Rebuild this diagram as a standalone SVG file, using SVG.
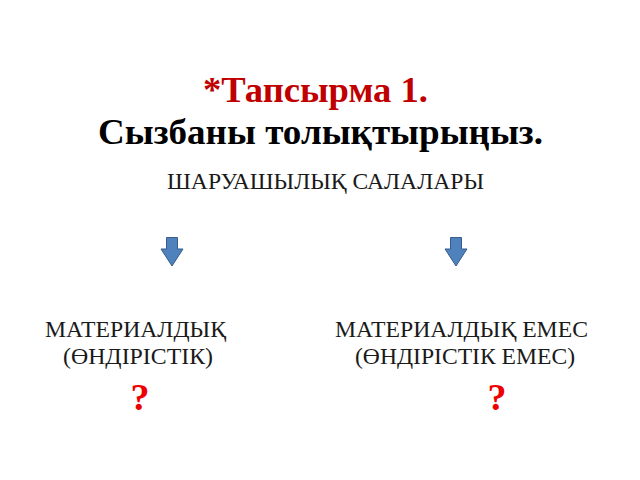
<svg xmlns="http://www.w3.org/2000/svg" width="640" height="480" viewBox="0 0 640 480">
<style>
.t1{font-family:"Liberation Serif",serif;font-weight:bold;font-size:36px;fill:#c00000}
.t2{font-family:"Liberation Serif",serif;font-weight:bold;font-size:36px;fill:#000}
.lbl{font-family:"Liberation Serif",serif;font-size:23px;fill:#1a1a1a}
.q{font-family:"Liberation Serif",serif;font-weight:bold;font-size:38px;fill:#ee0000}
.arr{fill:#4f81bd;stroke:#385d8a;stroke-width:1}
</style>
<rect width="640" height="480" fill="#fff"/>
<g id="title">
<text class="t1" x="203" y="102" textLength="225" lengthAdjust="spacingAndGlyphs">*Тапсырма 1.</text>
<text class="t2" x="98" y="144" textLength="445" lengthAdjust="spacingAndGlyphs">Сызбаны толықтырыңыз.</text>
</g>
<g id="root">
<text class="lbl" x="167" y="189" textLength="317" lengthAdjust="spacingAndGlyphs">ШАРУАШЫЛЫҚ САЛАЛАРЫ</text>
</g>
<g id="connectors">
<path class="arr" d="M166.5,237.5 H177.5 V249 H183 L172,266 L161,249 H166.5 Z"/>
<path class="arr" d="M450.5,237.5 H461.5 V249 H467 L456,266 L445,249 H450.5 Z"/>
</g>
<g id="left">
<text class="lbl" x="45" y="337" textLength="181" lengthAdjust="spacingAndGlyphs">МАТЕРИАЛДЫҚ</text>
<text class="lbl" x="63" y="364" textLength="150" lengthAdjust="spacingAndGlyphs">(ӨНДІРІСТІК)</text>
<text class="q" x="140" y="410" text-anchor="middle">?</text>
</g>
<g id="right">
<text class="lbl" x="335" y="337" textLength="253" lengthAdjust="spacingAndGlyphs">МАТЕРИАЛДЫҚ ЕМЕС</text>
<text class="lbl" x="355" y="364" textLength="220" lengthAdjust="spacingAndGlyphs">(ӨНДІРІСТІК ЕМЕС)</text>
<text class="q" x="497" y="410" text-anchor="middle">?</text>
</g>
</svg>
